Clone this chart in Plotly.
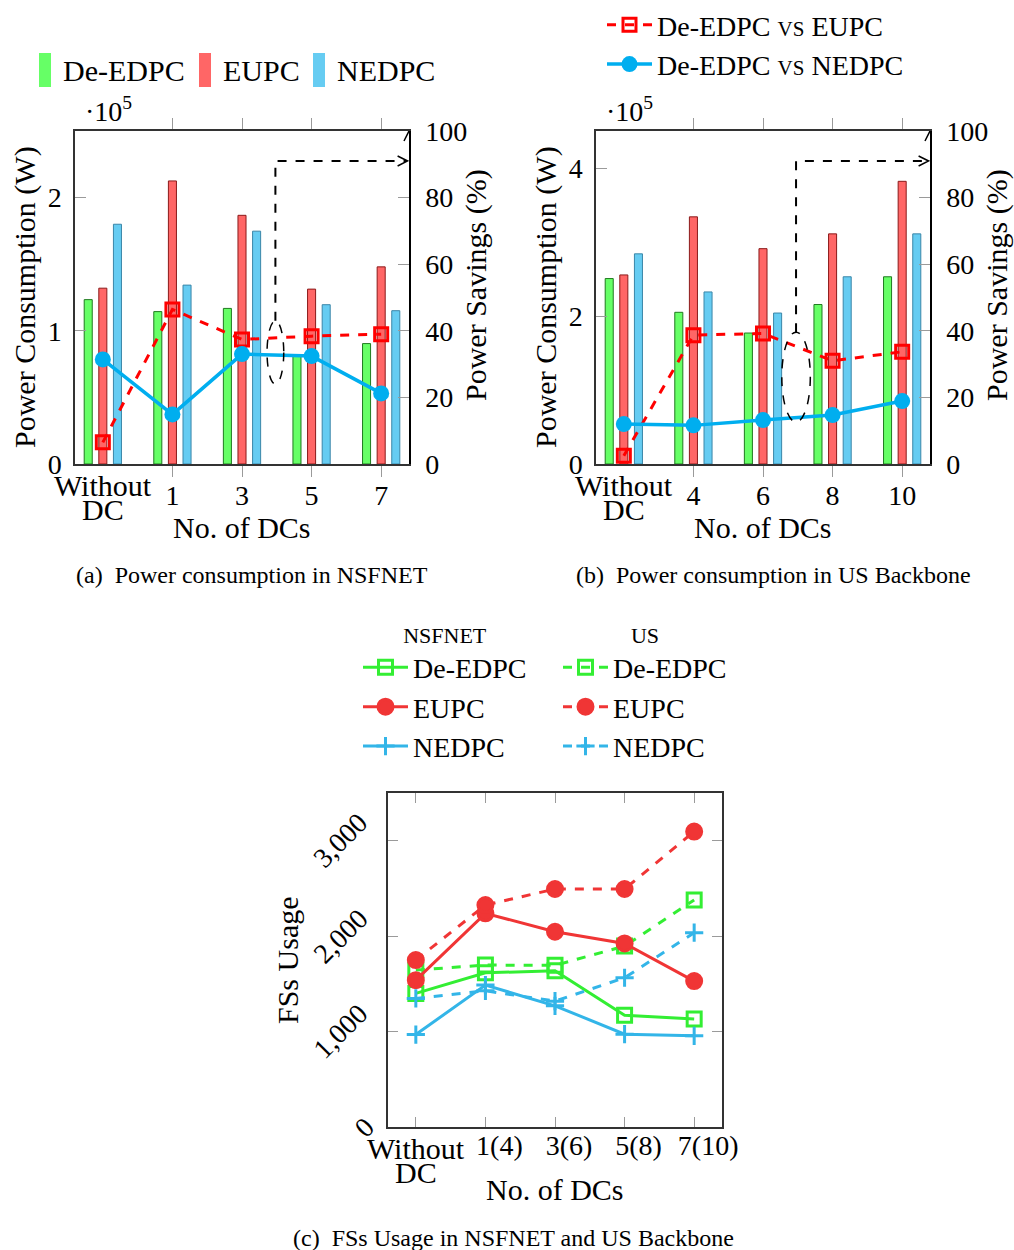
import plotly.graph_objects as go

W, H = 1014, 1250
FONT = "Liberation Serif, DejaVu Serif, serif"
WORD = 30   # font size for words
NUM = 28    # font size for numbers


def px(x):
    return x / W


def py(y):
    return 1 - y / H


# ---------------- data ----------------
# (a) NSFNET, power consumption in units of 1e5 W
cats_a = ["Without DC", "1", "3", "5", "7"]
nsf_de_edpc = [1.234, 1.144, 1.168, 0.81, 0.904]
nsf_eupc = [1.32, 2.125, 1.867, 1.313, 1.48]
nsf_nedpc = [1.80, 1.343, 1.748, 1.196, 1.151]
nsf_sav_eupc = [6.5, 46.4, 37.4, 38.4, 39.0]
nsf_sav_nedpc = [31.4, 14.9, 33.0, 32.4, 21.2]

# (b) US Backbone, power consumption in units of 1e5 W
cats_b = ["Without DC", "4", "6", "8", "10"]
us_de_edpc = [2.506, 2.05, 1.77, 2.155, 2.53]
us_eupc = [2.555, 3.34, 2.91, 3.11, 3.82]
us_nedpc = [2.84, 2.325, 2.04, 2.53, 3.11]
us_sav_eupc = [2.5, 38.7, 39.2, 31.0, 33.7]
us_sav_nedpc = [12.0, 11.6, 13.2, 14.7, 18.9]

# (c) FSs usage
cats_c = ["Without DC", "1(4)", "3(6)", "5(8)", "7(10)"]
fs_nsf_de_edpc = [1400, 1616, 1637, 1172, 1133]
fs_nsf_eupc = [1539, 2239, 2046, 1924, 1529]
fs_nsf_nedpc = [969, 1487, 1270, 973, 955]
fs_us_de_edpc = [1644, 1697, 1694, 1896, 2379]
fs_us_eupc = [1749, 2326, 2494, 2494, 3096]
fs_us_nedpc = [1347, 1427, 1319, 1564, 2036]

left_ticks_a = [0, 1, 2]
left_ticks_b = [0, 2, 4]
pct_ticks = [0, 20, 40, 60, 80, 100]
fs_ticks = [0, 1000, 2000, 3000]
fs_tick_text = ["0", "1,000", "2,000", "3,000"]

# ---------------- styles ----------------
GREEN_FILL, GREEN_EDGE = "#66FF66", "#1F7A1F"
RED_FILL, RED_EDGE = "#FF6666", "#8B1A1A"
BLUE_FILL, BLUE_EDGE = "#66CCF2", "#3A86A8"
SAV_RED, SAV_BLUE = "#FF0000", "#00AEEF"
C_GREEN, C_RED, C_BLUE = "#33EE33", "#F03535", "#33B5E8"
TICKC = "#9a9a9a"
AXC = "#333333"

fig = go.Figure()


def add_bars(cats, series, xa, ya):
    xs = list(range(len(cats)))
    for name, vals, fill, edge in series:
        fig.add_trace(go.Bar(
            x=xs, y=vals, name=name, xaxis=xa, yaxis=ya,
            marker=dict(color=fill, line=dict(color=edge, width=1)),
            showlegend=False, hoverinfo="skip"))


def add_savings(cats, eupc, nedpc, xa, ya, show):
    xs = list(range(len(cats)))
    fig.add_trace(go.Scatter(
        x=xs, y=eupc, xaxis=xa, yaxis=ya, mode="lines+markers",
        name="De-EDPC <span style='font-size:21px'>VS</span> EUPC",
        line=dict(color=SAV_RED, width=3, dash="dash"),
        marker=dict(symbol="square-open", size=13, color=SAV_RED, line=dict(width=3)),
        showlegend=show, legend="legend"))
    fig.add_trace(go.Scatter(
        x=xs, y=nedpc, xaxis=xa, yaxis=ya, mode="lines+markers",
        name="De-EDPC <span style='font-size:21px'>VS</span> NEDPC",
        line=dict(color=SAV_BLUE, width=3.5),
        marker=dict(symbol="circle", size=16, color=SAV_BLUE),
        showlegend=show, legend="legend"))


add_bars(cats_a, [("De-EDPC", nsf_de_edpc, GREEN_FILL, GREEN_EDGE),
                  ("EUPC", nsf_eupc, RED_FILL, RED_EDGE),
                  ("NEDPC", nsf_nedpc, BLUE_FILL, BLUE_EDGE)], "x", "y")
add_savings(cats_a, nsf_sav_eupc, nsf_sav_nedpc, "x", "y2", True)
add_bars(cats_b, [("De-EDPC", us_de_edpc, GREEN_FILL, GREEN_EDGE),
                  ("EUPC", us_eupc, RED_FILL, RED_EDGE),
                  ("NEDPC", us_nedpc, BLUE_FILL, BLUE_EDGE)], "x2", "y3")
add_savings(cats_b, us_sav_eupc, us_sav_nedpc, "x2", "y4", False)

# (c) lines
xs_c = list(range(len(cats_c)))
for name, nsf, us, col, sym, msize in [
        ("De-EDPC", fs_nsf_de_edpc, fs_us_de_edpc, C_GREEN, "square-open", 14),
        ("EUPC", fs_nsf_eupc, fs_us_eupc, C_RED, "circle", 15),
        ("NEDPC", fs_nsf_nedpc, fs_us_nedpc, C_BLUE, "cross-thin-open", 13)]:
    fig.add_trace(go.Scatter(
        x=xs_c, y=nsf, xaxis="x3", yaxis="y5", mode="lines+markers", name=name,
        line=dict(color=col, width=3),
        marker=dict(symbol=sym, size=msize, color=col, line=dict(width=3, color=col)),
        legend="legend2"))
    fig.add_trace(go.Scatter(
        x=xs_c, y=us, xaxis="x3", yaxis="y5", mode="lines+markers", name=name,
        line=dict(color=col, width=3, dash="dash"),
        marker=dict(symbol=sym, size=msize, color=col, line=dict(width=3, color=col)),
        legend="legend3"))

tickfont = dict(family=FONT, size=NUM, color="black")


def xaxis_ab(dom, cats, anchor):
    return dict(domain=dom, anchor=anchor, range=[-0.4, len(cats) - 0.6],
                tickvals=list(range(1, len(cats))), ticktext=cats[1:],
                ticks="outside", ticklen=11, tickcolor=TICKC, tickwidth=1,
                mirror="ticks", showline=True, linecolor=AXC, linewidth=1.5,
                showgrid=False, zeroline=False, tickfont=tickfont, tickangle=0,
                ticklabelstandoff=-5, automargin=False)


def yaxis_left(dom, rng, tv, anchor):
    return dict(domain=dom, anchor=anchor, range=rng, tickvals=tv,
                ticks="inside", ticklen=11, tickcolor=TICKC, tickwidth=1,
                showline=True, linecolor=AXC, linewidth=1.5, showgrid=False,
                zeroline=False, tickfont=tickfont, ticklabelstandoff=6,
                automargin=False)


def yaxis_right(over, anchor):
    return dict(overlaying=over, anchor=anchor, side="right", range=[0, 100],
                tickvals=pct_ticks, ticks="inside", ticklen=11, tickcolor=TICKC,
                tickwidth=1, showline=True, linecolor="black", linewidth=1.5,
                showgrid=False, zeroline=False, tickfont=tickfont,
                ticklabelstandoff=9, automargin=False)


ydom_ab = [py(464), py(131)]
fig.update_layout(
    template="none",
    width=W, height=H,
    margin=dict(l=0, r=0, t=0, b=0, autoexpand=False),
    paper_bgcolor="white", plot_bgcolor="white",
    font=dict(family=FONT, size=WORD, color="black"),
    barmode="group", bargap=0.37, bargroupgap=0.45,
    xaxis=xaxis_ab([px(75), px(409)], cats_a, "y"),
    yaxis=yaxis_left(ydom_ab, [0, 2.5], left_ticks_a, "x"),
    yaxis2=yaxis_right("y", "x"),
    xaxis2=xaxis_ab([px(596), px(930)], cats_b, "y3"),
    yaxis3=yaxis_left(ydom_ab, [0, 4.5], left_ticks_b, "x2"),
    yaxis4=yaxis_right("y3", "x2"),
    xaxis3=dict(domain=[px(388), px(722)], anchor="y5", range=[-0.4, 4.4],
                tickvals=xs_c, ticktext=[""] + cats_c[1:], ticks="inside",
                ticklen=10, tickcolor=TICKC, mirror="ticks", showline=True,
                linecolor=AXC, linewidth=1.5, showgrid=False, zeroline=False,
                tickfont=tickfont, tickangle=0, ticklabelstandoff=-7,
                ticklabelshift=14, automargin=False),
    yaxis5=dict(domain=[py(1127), py(793)], anchor="x3", range=[0, 3500],
                tickvals=fs_ticks, showticklabels=False, ticks="inside",
                ticklen=10, tickcolor=TICKC, mirror="ticks", showline=True,
                linecolor=AXC, linewidth=1.5, showgrid=False, zeroline=False,
                automargin=False),
    legend=dict(x=px(602), y=py(0), xanchor="left", yanchor="top",
                bgcolor="rgba(0,0,0,0)", font=dict(family=FONT, size=28),
                itemwidth=45, tracegroupgap=0),
    legend2=dict(x=px(358), y=py(614), xanchor="left", yanchor="top",
                 bgcolor="rgba(0,0,0,0)", font=dict(family=FONT, size=28),
                 itemwidth=45,
                 title=dict(text="NSFNET", side="top center",
                            font=dict(family=FONT, size=22))),
    legend3=dict(x=px(558), y=py(614), xanchor="left", yanchor="top",
                 bgcolor="rgba(0,0,0,0)", font=dict(family=FONT, size=28),
                 itemwidth=45,
                 title=dict(text="US", side="top center",
                            font=dict(family=FONT, size=22))),
)

ann = []
shapes = []

# manual bar legend for (a)
for (x0, col, edge, label) in [(39, GREEN_FILL, GREEN_EDGE, "De-EDPC"),
                               (199, RED_FILL, RED_EDGE, "EUPC"),
                               (313, BLUE_FILL, BLUE_EDGE, "NEDPC")]:
    shapes.append(dict(type="rect", xref="paper", yref="paper",
                       x0=px(x0), x1=px(x0 + 12), y0=py(87), y1=py(53),
                       fillcolor=col, line=dict(width=0)))
    ann.append(dict(text=label, xref="paper", yref="paper", x=px(x0 + 22),
                    y=py(70), xanchor="left", yanchor="middle", showarrow=False,
                    font=dict(size=WORD)))

arrow_up = "M -5,-10 L 0,0 L 5,-10"
arrow_right = "M -10,-5 L 0,0 L -10,5"

for (xa, ya, xleft, xright, cats) in [("x", "y2", 75, 409, cats_a),
                                      ("x2", "y4", 596, 930, cats_b)]:
    # "Without DC" label (two lines, centred on the tick-label row)
    w1, w2 = cats[0].split(" ")
    ann.append(dict(text=w1, xref=xa, yref="paper", x=0, y=py(485),
                    xanchor="center", yanchor="middle", showarrow=False,
                    font=dict(size=WORD)))
    ann.append(dict(text=w2, xref=xa, yref="paper", x=0, y=py(510),
                    xanchor="center", yanchor="middle", showarrow=False,
                    font=dict(size=WORD)))
    # x title
    ann.append(dict(text="No. of DCs", xref="paper", yref="paper",
                    x=px((xleft + xright) / 2), y=py(527), xanchor="center",
                    yanchor="middle", showarrow=False, font=dict(size=WORD)))
    # left y title
    ann.append(dict(text="Power Consumption (W)", xref="paper", yref="paper",
                    x=px(xleft - 50), y=py(297), textangle=-90,
                    xanchor="center", yanchor="middle", showarrow=False,
                    font=dict(size=WORD)))
    # right y title
    ann.append(dict(text="Power Savings (%)", xref="paper", yref="paper",
                    x=px(xright + 67), y=py(285), textangle=-90,
                    xanchor="center", yanchor="middle", showarrow=False,
                    font=dict(size=WORD)))
    # multiplier
    ann.append(dict(text="\u00b710<sup>5</sup>", xref="paper", yref="paper",
                    x=px(xleft + 8), y=py(110), xanchor="left",
                    yanchor="middle", showarrow=False, font=dict(size=NUM)))
    # up arrow head on right axis
    shapes.append(dict(type="path", xref=xa, yref=ya, xsizemode="pixel",
                       ysizemode="pixel", xanchor=4.4, yanchor=100,
                       path=arrow_up, line=dict(color="black", width=1.5)))
    # right-pointing arrow head of dashed callout
    shapes.append(dict(type="path", xref=xa, yref=ya, xsizemode="pixel",
                       ysizemode="pixel", xanchor=4.38, yanchor=91,
                       path=arrow_right, line=dict(color="black", width=1.5)))

# dashed callouts
shapes.append(dict(type="circle", xref="x", yref="y2", x0=2.36, x1=2.6,
                   y0=24, y1=43, line=dict(color="black", width=1.5, dash="dash")))
shapes.append(dict(type="path", xref="x", yref="y2",
                   path="M 2.48,43 L 2.48,91 L 4.37,91",
                   line=dict(color="black", width=2, dash="dash")))
shapes.append(dict(type="circle", xref="x2", yref="y4", x0=2.27, x1=2.68,
                   y0=12.6, y1=39.6, line=dict(color="black", width=1.5, dash="dash")))
shapes.append(dict(type="path", xref="x2", yref="y4",
                   path="M 2.475,39.6 L 2.475,91 L 4.37,91",
                   line=dict(color="black", width=2, dash="dash")))

# (c) "Without DC" tick label
w1, w2 = cats_c[0].split(" ")
ann.append(dict(text=w1, xref="x3", yref="paper", x=0, y=py(1148),
                xanchor="center", yanchor="middle", showarrow=False,
                font=dict(size=WORD)))
ann.append(dict(text=w2, xref="x3", yref="paper", x=0, y=py(1172),
                xanchor="center", yanchor="middle", showarrow=False,
                font=dict(size=WORD)))

# (c) y tick labels rotated
for v, t in zip(fs_ticks, fs_tick_text):
    ann.append(dict(text=t, xref="paper", yref="y5", x=px(370 - 6 * len(t)),
                    y=v, textangle=-45, xanchor="center", yanchor="middle",
                    showarrow=False, font=dict(size=NUM)))
ann.append(dict(text="FSs Usage", xref="paper", yref="paper", x=px(287),
                y=py(960), textangle=-90, xanchor="center", yanchor="middle",
                showarrow=False, font=dict(size=WORD)))
ann.append(dict(text="No. of DCs", xref="paper", yref="paper", x=px(555),
                y=py(1189), xanchor="center", yanchor="middle",
                showarrow=False, font=dict(size=WORD)))

# captions
for text, x, y in [("(a)\u00a0 Power consumption in NSFNET", 252, 575),
                   ("(b)\u00a0 Power consumption in US Backbone", 773, 575),
                   ("(c)\u00a0 FSs Usage in NSFNET and US Backbone", 513, 1238)]:
    ann.append(dict(text=text, xref="paper", yref="paper", x=px(x), y=py(y),
                    xanchor="center", yanchor="middle", showarrow=False,
                    font=dict(size=24)))

fig.update_layout(annotations=ann, shapes=shapes)

fig.write_html("out.html", config={"displayModeBar": False},
               post_script="document.body.style.margin='0px';")
